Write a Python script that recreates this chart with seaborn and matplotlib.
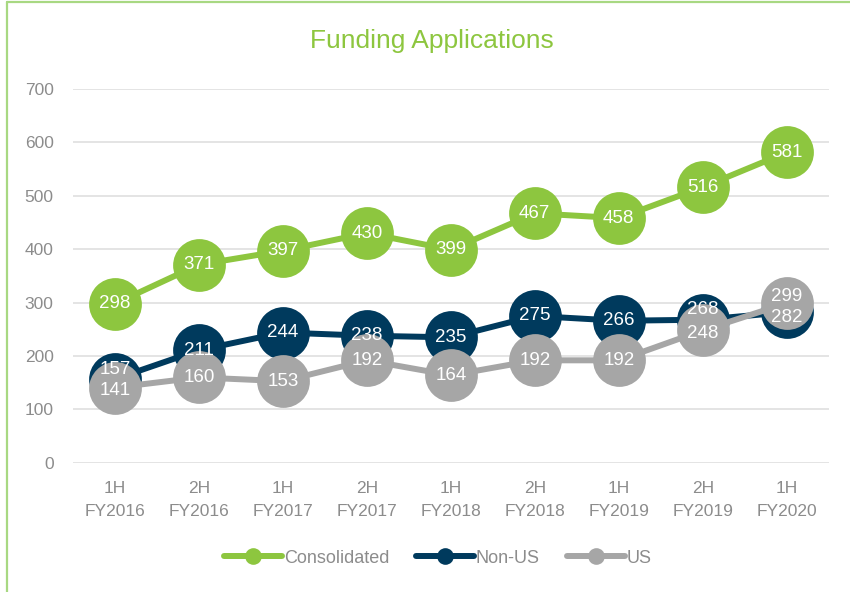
import pandas as pd
import matplotlib.pyplot as plt
import seaborn as sns
from matplotlib.lines import Line2D

# dados do grafico
periodos = ["1H\nFY2016", "2H\nFY2016", "1H\nFY2017", "2H\nFY2017", "1H\nFY2018",
            "2H\nFY2018", "1H\nFY2019", "2H\nFY2019", "1H\nFY2020"]
consolidated = [298, 371, 397, 430, 399, 467, 458, 516, 581]
non_us = [157, 211, 244, 238, 235, 275, 266, 268, 282]
us = [141, 160, 153, 192, 164, 192, 192, 248, 299]

series = ["Consolidated", "Non-US", "US"]
cores = {"Consolidated": "#8dc63f", "Non-US": "#003a5d", "US": "#a6a6a6"}

df = pd.DataFrame({
    "idx": list(range(len(periodos))) * 3,
    "valor": consolidated + non_us + us,
    "serie": ["Consolidated"] * 9 + ["Non-US"] * 9 + ["US"] * 9,
})

sns.set_style("white")
plt.rcParams["font.family"] = ["Liberation Sans", "DejaVu Sans"]

fig = plt.figure(figsize=(8.5, 5.92), dpi=100)
ax = fig.add_axes([0.0859, 0.218, 0.889, 0.632])

for s in series:
    d = df[df["serie"] == s]
    sns.lineplot(data=d, x="idx", y="valor", color=cores[s], linewidth=4.3,
                 marker="o", markersize=38, markeredgewidth=0, ax=ax, legend=False)

# deslocamento dos rotulos que se sobrepoem (em pontos)
desloc = {("Non-US", 0): 7, ("US", 0): -2, ("Non-US", 7): 7, ("US", 7): -2,
          ("US", 8): 5, ("Non-US", 8): -4}
for s in series:
    d = df[df["serie"] == s]
    for i, v in zip(d["idx"], d["valor"]):
        ax.annotate(str(v), (i, v), xytext=(0, desloc.get((s, i), 0)),
                    textcoords="offset points", ha="center", va="center",
                    color="white", fontsize=13.5, zorder=10)

ax.set_xlim(-0.5, len(periodos) - 0.5)
ax.set_ylim(0, 700)
ax.set_yticks(range(0, 701, 100))
ax.set_xticks(range(len(periodos)))
ax.set_xticklabels(periodos, linespacing=1.65)
ax.tick_params(axis="both", length=0, labelsize=12.5, colors="#8c8c8c")
ax.tick_params(axis="y", pad=14)
ax.tick_params(axis="x", pad=13)
ax.grid(axis="y", color="#e2e2e2", linewidth=1.3)
ax.set_axisbelow(True)
for sp in ax.spines.values():
    sp.set_visible(False)
ax.set_xlabel("")
ax.set_ylabel("")

fig.text(0.508, 0.93, "Funding Applications", ha="center", va="center",
         fontsize=19, color="#8dc63f")

handles = [Line2D([0], [0], color=cores[s], linewidth=4.3, marker="o",
                  markersize=12, markeredgewidth=0) for s in series]
fig.legend(handles, series, loc="center", bbox_to_anchor=(0.515, 0.057), ncol=3,
           frameon=False, fontsize=13, labelcolor="#8c8c8c", handlelength=3.2,
           handletextpad=0.1, columnspacing=1.5)

# moldura verde do slide
fig.add_artist(Line2D([0.0085, 0.0085], [0, 0.996], color="#a8d882", linewidth=1.6))
fig.add_artist(Line2D([0.0085, 1], [0.996, 0.996], color="#a8d882", linewidth=1.6))

fig.savefig("out.png", dpi=100)
